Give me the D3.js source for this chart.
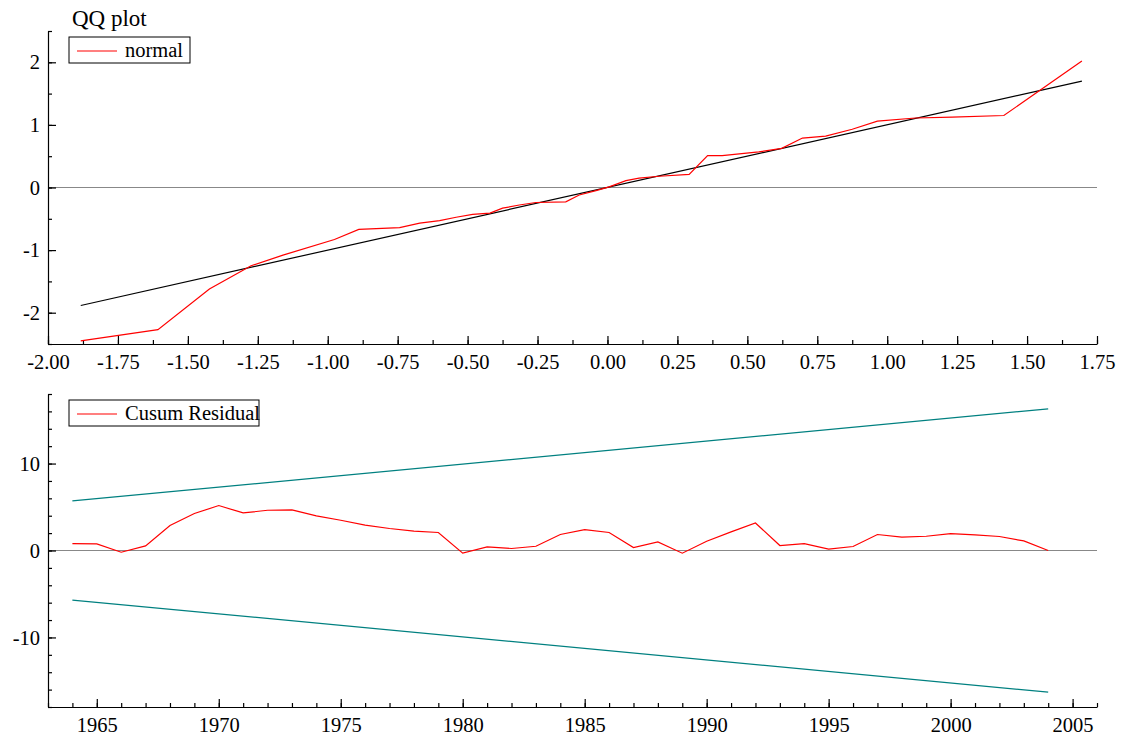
<!DOCTYPE html>
<html>
<head>
<meta charset="utf-8">
<script src="https://cdn.jsdelivr.net/npm/d3@7"></script>
<style>
  body { margin: 0; background: #fff; }
  text { font-family: "Liberation Serif", "Times New Roman", serif; fill: #000; }
</style>
</head>
<body>
<script>
// QQ plot data (theoretical normal quantile vs sample quantile)
var qqX = [-1.883, -1.607, -1.423, -1.274, -1.16, -0.976, -0.889, -0.743, -0.671, -0.60,
           -0.541, -0.482, -0.42, -0.375, -0.315, -0.256, -0.149, -0.101, -0.041, 0.006,
           0.066, 0.113, 0.185, 0.292, 0.358, 0.41, 0.541, 0.623, 0.697, 0.78,
           0.875, 0.965, 1.101, 1.232, 1.417, 1.696];
var qqY = [-2.45, -2.27, -1.62, -1.25, -1.08, -0.83, -0.67, -0.64, -0.57, -0.53,
           -0.475, -0.43, -0.41, -0.33, -0.28, -0.24, -0.23, -0.12, -0.05, 0.01,
           0.11, 0.15, 0.18, 0.21, 0.51, 0.51, 0.57, 0.625, 0.79, 0.82,
           0.93, 1.06, 1.11, 1.125, 1.15, 2.02];
var qqLineX = [-1.883, 1.696];
var qqLineY = [-1.885, 1.70];

var qqXTicks = [-2, -1.75, -1.5, -1.25, -1, -0.75, -0.5, -0.25, 0, 0.25, 0.5, 0.75, 1, 1.25, 1.5, 1.75];
var qqYTicks = [-2, -1, 0, 1, 2];

// Cusum data
var years = [1964, 1965, 1966, 1967, 1968, 1969, 1970, 1971, 1972, 1973, 1974, 1975, 1976, 1977,
             1978, 1979, 1980, 1981, 1982, 1983, 1984, 1985, 1986, 1987, 1988, 1989, 1990, 1991,
             1992, 1993, 1994, 1995, 1996, 1997, 1998, 1999, 2000, 2001, 2002, 2003, 2004];
var cusum = [0.8, 0.76, -0.2, 0.53, 2.87, 4.25, 5.17, 4.32, 4.63, 4.67, 3.98, 3.48, 2.91, 2.53,
             2.22, 2.07, -0.31, 0.42, 0.23, 0.49, 1.84, 2.41, 2.07, 0.34, 0.99, -0.31, 1.07, 2.14,
             3.17, 0.57, 0.8, 0.15, 0.46, 1.84, 1.53, 1.64, 1.95, 1.79, 1.61, 1.1, 0];
var boundYears = [1964, 2004];
var upperBound = [5.7, 16.3];
var lowerBound = [-5.7, -16.3];

var yearTicks = [1965, 1970, 1975, 1980, 1985, 1990, 1995, 2000, 2005];
var cusumYTicks = [-10, 0, 10];

var W = 1125, H = 740, fs = 20.5;
var left = 48, right = 1097;

var svg = d3.select("body").append("svg")
    .attr("width", W)
    .attr("height", H);

function zip(xs, ys) {
    return xs.map(function (d, i) { return [d, ys[i]]; });
}

function axes(g, x, y, xMajor, xMinor, yMajor, yMinor, xFmt, yFmt) {
    var y0 = y.range()[0];
    g.append("g").attr("transform", "translate(0," + y0 + ")")
        .call(d3.axisBottom(x).tickValues(xMinor).tickSize(-4).tickSizeOuter(0).tickFormat(""))
        .call(function (s) { s.select(".domain").remove(); });
    g.append("g").attr("transform", "translate(0," + y0 + ")")
        .call(d3.axisBottom(x).tickValues(xMajor).tickSize(-8).tickSizeOuter(0).tickPadding(10).tickFormat(xFmt))
        .call(function (s) { s.selectAll("text").style("font-size", fs + "px"); });
    g.append("g").attr("transform", "translate(" + left + ",0)")
        .call(d3.axisLeft(y).tickValues(yMinor).tickSize(-4).tickSizeOuter(0).tickFormat(""))
        .call(function (s) { s.select(".domain").remove(); });
    g.append("g").attr("transform", "translate(" + left + ",0)")
        .call(d3.axisLeft(y).tickValues(yMajor).tickSize(-8).tickSizeOuter(0).tickPadding(8).tickFormat(yFmt))
        .call(function (s) { s.selectAll("text").style("font-size", fs + "px"); });
    g.selectAll(".domain, .tick line").attr("stroke", "#000").attr("stroke-width", 1.2);
}

function legend(g, x0, y0, w, label) {
    g.append("rect").attr("x", x0).attr("y", y0).attr("width", w).attr("height", 26)
        .attr("fill", "#fff").attr("stroke", "#000").attr("stroke-width", 1);
    g.append("line").attr("x1", x0 + 8).attr("x2", x0 + 48).attr("y1", y0 + 14).attr("y2", y0 + 14)
        .attr("stroke", "red").attr("stroke-width", 1.2);
    g.append("text").attr("x", x0 + 56).attr("y", y0 + 20).style("font-size", fs + "px").text(label);
}

// ---- top panel: QQ plot
var x1 = d3.scaleLinear().domain([-2, 1.75]).range([left, right]);
var y1 = d3.scaleLinear().domain([-2.5, 2.5]).range([344, 31]);
var qqPanel = svg.append("g");

qqPanel.append("line").attr("x1", x1(-2)).attr("x2", x1(1.75)).attr("y1", y1(0)).attr("y2", y1(0))
    .attr("stroke", "#888").attr("stroke-width", 1);

axes(qqPanel, x1, y1, qqXTicks, d3.range(-2, 1.76, 0.125), qqYTicks, d3.range(-2.5, 2.6, 0.5),
    function (d) { return d.toFixed(2); }, function (d) { return String(d); });

var line1 = d3.line().x(function (d) { return x1(d[0]); }).y(function (d) { return y1(d[1]); });
qqPanel.append("path").datum(zip(qqLineX, qqLineY)).attr("d", line1)
    .attr("fill", "none").attr("stroke", "#000").attr("stroke-width", 1.2);
qqPanel.append("path").datum(zip(qqX, qqY)).attr("d", line1)
    .attr("fill", "none").attr("stroke", "red").attr("stroke-width", 1.2);

qqPanel.append("text").attr("x", 72).attr("y", 26).style("font-size", "23px").text("QQ plot");
legend(qqPanel, 69, 37, 121, "normal");

// ---- bottom panel: cusum
var x2 = d3.scaleLinear().domain([1963, 2006]).range([left, right]);
var y2 = d3.scaleLinear().domain([-18, 18]).range([707, 394]);
var cusumPanel = svg.append("g");

cusumPanel.append("line").attr("x1", x2(1963)).attr("x2", x2(2006)).attr("y1", y2(0)).attr("y2", y2(0))
    .attr("stroke", "#888").attr("stroke-width", 1);

axes(cusumPanel, x2, y2, yearTicks, d3.range(1963, 2007, 1), cusumYTicks, d3.range(-18, 19, 2),
    function (d) { return String(d); }, function (d) { return String(d); });

var line2 = d3.line().x(function (d) { return x2(d[0]); }).y(function (d) { return y2(d[1]); });
cusumPanel.append("path").datum(zip(boundYears, upperBound)).attr("d", line2)
    .attr("fill", "none").attr("stroke", "#008080").attr("stroke-width", 1.2);
cusumPanel.append("path").datum(zip(boundYears, lowerBound)).attr("d", line2)
    .attr("fill", "none").attr("stroke", "#008080").attr("stroke-width", 1.2);
cusumPanel.append("path").datum(zip(years, cusum)).attr("d", line2)
    .attr("fill", "none").attr("stroke", "red").attr("stroke-width", 1.2);

legend(cusumPanel, 69, 400, 190, "Cusum Residual");
</script>
</body>
</html>
